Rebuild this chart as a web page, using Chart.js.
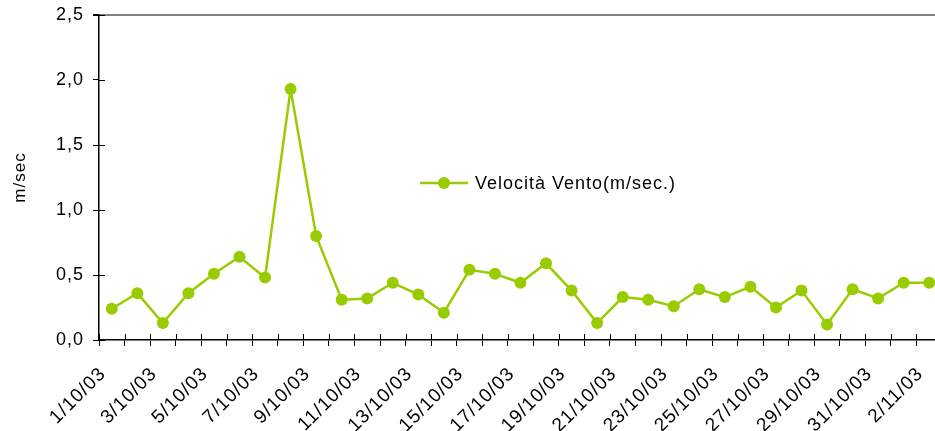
<!DOCTYPE html>
<html>
<head>
<meta charset="utf-8">
<script src="https://cdn.jsdelivr.net/npm/chart.js@4"></script>
<style>
  html, body { margin: 0; padding: 0; background: #fff; overflow: hidden; }
  #contenitore { width: 935px; height: 431px; overflow: hidden; }
</style>
</head>
<body>
<div id="contenitore">
  <canvas id="grafico" width="948" height="431"></canvas>
</div>
<script>
// giorni di misura (1/10/03 - 2/11/03)
const giorni = [
  '1/10/03', '2/10/03', '3/10/03', '4/10/03', '5/10/03', '6/10/03', '7/10/03', '8/10/03',
  '9/10/03', '10/10/03', '11/10/03', '12/10/03', '13/10/03', '14/10/03', '15/10/03', '16/10/03',
  '17/10/03', '18/10/03', '19/10/03', '20/10/03', '21/10/03', '22/10/03', '23/10/03', '24/10/03',
  '25/10/03', '26/10/03', '27/10/03', '28/10/03', '29/10/03', '30/10/03', '31/10/03', '1/11/03',
  '2/11/03'
];

// velocita' media giornaliera del vento (m/sec)
const velocitaVento = [
  0.24, 0.36, 0.13, 0.36, 0.51, 0.64, 0.48, 1.93,
  0.80, 0.31, 0.32, 0.44, 0.35, 0.21, 0.54, 0.51,
  0.44, 0.59, 0.38, 0.13, 0.33, 0.31, 0.26, 0.39,
  0.33, 0.41, 0.25, 0.38, 0.12, 0.39, 0.32, 0.44,
  0.44
];

const etichettaSerie = 'Velocità Vento(m/sec.)';
const titoloAsseY = 'm/sec';
const tickAsseY = [0, 0.5, 1.0, 1.5, 2.0, 2.5];

const verde = '#99cc00';
const font = '"Liberation Sans", Arial, sans-serif';

// il testo dell'originale e' un po' "largo"
const spaziaturaPlugin = {
  id: 'spaziatura',
  beforeUpdate(chart) { chart.ctx.letterSpacing = '1px'; },
  beforeDraw(chart) { chart.ctx.letterSpacing = '1px'; }
};

// tacche "a croce" come in Excel: la parte interna la disegno qui
const tacchePlugin = {
  id: 'tacche',
  afterDraw(chart) {
    const c = chart.ctx;
    const x = chart.scales.x;
    const y = chart.scales.y;
    const n = giorni.length;
    c.save();
    c.strokeStyle = '#000';
    c.lineWidth = 1;
    c.beginPath();
    for (let i = 0; i <= n; i++) {
      const px = Math.round(x.left + i * (x.width / n)) + 0.5;
      c.moveTo(px, x.top);
      c.lineTo(px, x.top - 6);
    }
    tickAsseY.forEach(v => {
      const py = Math.round(y.getPixelForValue(v)) + 0.5;
      c.moveTo(y.right, py);
      c.lineTo(y.right + 6, py);
    });
    c.stroke();
    c.restore();
  }
};

// legenda dentro l'area del grafico
const legendaPlugin = {
  id: 'legenda',
  afterDraw(chart) {
    const c = chart.ctx;
    const ds = chart.data.datasets[0];
    const lx = 420, ly = 183;
    c.save();
    c.strokeStyle = ds.borderColor;
    c.lineWidth = ds.borderWidth;
    c.beginPath();
    c.moveTo(lx, ly);
    c.lineTo(lx + 48, ly);
    c.stroke();
    c.fillStyle = ds.pointBackgroundColor;
    c.beginPath();
    c.arc(lx + 24, ly, ds.pointRadius, 0, Math.PI * 2);
    c.fill();
    c.fillStyle = '#000';
    c.font = '18px ' + font;
    c.textBaseline = 'middle';
    c.fillText(ds.label, lx + 55, ly + 1);
    c.restore();
  }
};

new Chart(document.getElementById('grafico').getContext('2d'), {
  type: 'line',
  data: {
    labels: giorni,
    datasets: [{
      label: etichettaSerie,
      data: velocitaVento,
      borderColor: verde,
      backgroundColor: verde,
      borderWidth: 2.5,
      pointRadius: 6,
      pointBackgroundColor: verde,
      pointBorderWidth: 0,
      tension: 0
    }]
  },
  options: {
    responsive: false,
    animation: false,
    devicePixelRatio: 1,
    layout: { padding: { top: 15, right: 6, left: 0, bottom: 0 } },
    plugins: {
      legend: { display: false },
      tooltip: { enabled: false }
    },
    scales: {
      x: {
        offset: true,
        grid: {
          offset: true,
          drawOnChartArea: false,
          color: '#000',
          tickLength: 6
        },
        border: { color: '#000', width: 1.5 },
        ticks: {
          autoSkip: false,
          maxRotation: 45,
          minRotation: 45,
          padding: 8,
          color: '#000',
          font: { family: font, size: 19 },
          // due spazi in coda spostano l'etichetta lungo la diagonale
          callback: (v, i) => (i % 2 === 0 ? giorni[i] + '  ' : '')
        },
        afterFit: s => {
          s.height = 91;
          s.paddingLeft = 0;
          s.paddingRight = 0;
        }
      },
      y: {
        min: 0,
        max: 2.5,
        afterBuildTicks: s => { s.ticks = tickAsseY.map(v => ({ value: v })); },
        grid: {
          color: ctx => (ctx.tick && ctx.tick.value === 2.5 ? '#808080' : 'rgba(0,0,0,0)'),
          lineWidth: ctx => (ctx.tick && ctx.tick.value === 2.5 ? 2 : 1),
          tickColor: '#000',
          tickLength: 6
        },
        border: { color: '#000', width: 1.5 },
        ticks: {
          padding: 9,
          color: '#000',
          font: { family: font, size: 18 },
          callback: v => v.toFixed(1).replace('.', ',')
        },
        title: {
          display: true,
          text: titoloAsseY,
          color: '#000',
          font: { family: font, size: 17 },
          padding: { top: 10, bottom: 0 }
        },
        afterFit: s => {
          s.width = 99;
          s.paddingTop = 0;
          s.paddingBottom = 0;
        }
      }
    }
  },
  plugins: [spaziaturaPlugin, tacchePlugin, legendaPlugin]
});
</script>
</body>
</html>
